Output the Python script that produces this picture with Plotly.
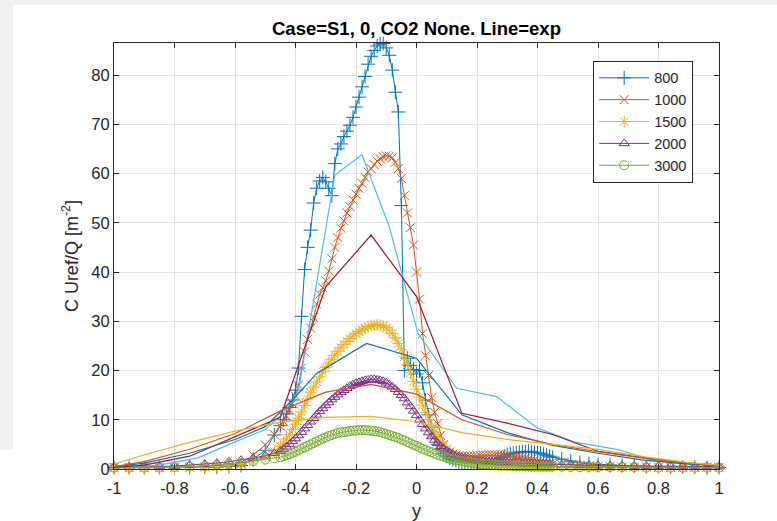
import plotly.graph_objects as go

# radial position (shared by all measured profiles)
y_exp = [-1.0, -0.95, -0.9, -0.85, -0.8, -0.75, -0.7, -0.66, -0.62, -0.58, -0.54, -0.5, -0.47,
         -0.45, -0.44, -0.43, -0.42, -0.41, -0.4, -0.39, -0.38, -0.37, -0.36,
         -0.35, -0.34, -0.33, -0.32, -0.31, -0.3, -0.29, -0.28, -0.27, -0.26,
         -0.25, -0.24, -0.23, -0.22, -0.21, -0.2, -0.19, -0.18, -0.17, -0.16,
         -0.15, -0.14, -0.13, -0.12, -0.11, -0.1, -0.09, -0.08, -0.07, -0.06,
         -0.05, -0.04, -0.03, -0.02, -0.01, 0.0, 0.01, 0.02, 0.03, 0.04,
         0.05, 0.06, 0.07, 0.08, 0.09, 0.1, 0.11, 0.12, 0.13, 0.14,
         0.15, 0.16, 0.17, 0.18, 0.19, 0.2, 0.21, 0.22, 0.23, 0.24,
         0.25, 0.26, 0.27, 0.28, 0.29, 0.3, 0.31, 0.32, 0.33, 0.34,
         0.35, 0.36, 0.37, 0.38, 0.39, 0.4, 0.41, 0.42, 0.43, 0.44,
         0.45,
         0.48, 0.51, 0.54, 0.57, 0.6, 0.64, 0.68, 0.72, 0.76, 0.8, 0.84, 0.88, 0.92, 0.96, 1.0]

c800 = [0.3, 0.3, 0.3, 0.3, 0.3, 0.3, 0.4, 0.4, 0.5, 0.7, 2.0, 3.8, 6.9,
        8.8, 10.0, 11.2, 12.5, 14.0, 16.0, 20.5, 31.0, 40.5, 45.0,
        48.5, 54.0, 57.0, 58.5, 59.2, 58.3, 57.0, 55.5, 62.0, 65.0,
        66.0, 67.5, 68.6, 69.8, 71.4, 73.5, 75.5, 77.6, 79.7, 82.2,
        83.8, 85.0, 85.9, 86.3, 86.4, 85.5, 84.0, 81.0, 76.5, 72.5,
        53.5, 20.0, 22.5, 21.0, 20.2, 19.3, 20.0, 17.5, 14.0, 11.0,
        8.5, 6.5, 5.0, 4.0, 3.2, 2.6, 2.2, 1.9, 1.7, 1.5,
        1.4, 1.3, 1.3, 1.2, 1.2, 1.2, 1.3, 1.3, 1.4, 1.5,
        1.6, 1.8, 2.0, 2.3, 2.6, 2.9, 3.1, 3.2, 3.3, 3.4,
        3.5, 3.5, 3.6, 3.5, 3.4, 3.3, 3.2, 3.0, 2.8, 2.6,
        2.4,
        2.0, 1.6, 1.3, 1.1, 0.9, 0.8, 0.7, 0.6, 0.5, 0.5, 0.4, 0.4, 0.4, 0.3, 0.3]

c1000 = [0.3, 0.3, 0.3, 0.3, 0.3, 0.3, 0.4, 0.5, 0.7, 1.2, 2.8, 4.9, 7.0,
         8.7, 9.7, 10.8, 12.0, 13.3, 14.8, 17.0, 20.5, 23.8, 26.3,
         28.6, 30.8, 33.5, 35.5, 36.8, 38.2, 40.2, 42.7, 45.0, 47.0,
         48.9, 50.4, 52.0, 53.3, 54.6, 55.8, 57.0, 58.0, 59.2, 60.3,
         61.0, 61.8, 62.5, 63.0, 63.4, 63.6, 63.5, 63.2, 62.3, 61.0,
         59.0, 55.5, 52.0, 49.0, 45.5, 40.0, 34.5, 27.5, 23.0, 19.0,
         14.5, 11.5, 9.2, 6.8, 5.0, 4.0, 3.4, 3.0, 2.8, 2.7,
         2.6, 2.6, 2.6, 2.6, 2.7, 2.7, 2.8, 2.8, 2.8, 2.9,
         2.9, 2.9, 2.9, 2.9, 2.8, 2.8, 2.7, 2.6, 2.5, 2.4,
         2.3, 2.2, 2.0, 1.9, 1.8, 1.6, 1.5, 1.4, 1.2, 1.1,
         1.0,
         0.9, 0.8, 0.7, 0.6, 0.5, 0.5, 0.4, 0.4, 0.4, 0.3, 0.3, 0.3, 0.3, 0.3, 0.3]

c1500 = [0.2, 0.2, 0.2, 0.2, 0.2, 0.3, 0.4, 0.5, 0.7, 1.0, 1.6, 2.6, 3.6,
         4.6, 5.3, 6.1, 7.0, 8.0, 9.1, 10.3, 11.6, 12.9, 14.2,
         15.5, 16.6, 17.7, 18.7, 19.7, 20.6, 21.5, 22.3, 23.1, 23.9,
         24.6, 25.3, 25.9, 26.5, 27.0, 27.5, 27.9, 28.3, 28.6, 28.9,
         29.1, 29.2, 29.3, 29.2, 29.0, 28.7, 28.2, 27.5, 26.6, 25.5,
         24.2, 22.8, 21.2, 19.5, 17.8, 16.2, 14.6, 13.0, 11.5, 10.0,
         8.7, 7.5, 6.4, 5.5, 4.7, 4.0, 3.5, 3.0, 2.6, 2.3,
         2.0, 1.8, 1.6, 1.5, 1.4, 1.3, 1.2, 1.1, 1.0, 1.0,
         0.9, 0.9, 0.8, 0.8, 0.8, 0.7, 0.7, 0.7, 0.7, 0.7,
         0.7, 0.6, 0.6, 0.6, 0.6, 0.6, 0.6, 0.6, 0.6, 0.5,
         0.5,
         0.5, 0.5, 0.5, 0.4, 0.4, 0.4, 0.4, 0.4, 0.4, 0.4, 0.4, 0.4, 0.4, 0.4, 0.4]

c2000 = [0.4, 0.4, 0.4, 0.5, 0.6, 0.8, 1.0, 1.2, 1.5, 1.8, 2.2, 2.7, 3.2,
         3.6, 4.0, 4.5, 5.0, 5.6, 6.2, 6.8, 7.5, 8.2, 8.9,
         9.6, 10.3, 11.0, 11.7, 12.3, 12.9, 13.5, 14.1, 14.6, 15.1,
         15.6, 16.0, 16.4, 16.8, 17.1, 17.4, 17.6, 17.8, 18.0, 18.1,
         18.2, 18.2, 18.1, 18.0, 17.8, 17.5, 17.1, 16.7, 16.2, 15.6,
         15.0, 14.3, 13.5, 12.7, 11.8, 10.9, 10.0, 9.1, 8.2, 7.4,
         6.6, 5.9, 5.2, 4.6, 4.1, 3.7, 3.3, 3.0, 2.7, 2.5,
         2.3, 2.1, 2.0, 1.9, 1.8, 1.7, 1.6, 1.6, 1.5, 1.5,
         1.4, 1.4, 1.4, 1.3, 1.3, 1.3, 1.2, 1.2, 1.2, 1.2,
         1.1, 1.1, 1.1, 1.1, 1.1, 1.0, 1.0, 1.0, 1.0, 1.0,
         1.0,
         0.9, 0.9, 0.8, 0.8, 0.7, 0.7, 0.7, 0.6, 0.6, 0.6, 0.6, 0.5, 0.5, 0.5, 0.5]

c3000 = [0.3, 0.3, 0.3, 0.3, 0.4, 0.5, 0.6, 0.8, 1.0, 1.3, 1.6, 1.9, 2.2,
         2.4, 2.6, 2.8, 3.0, 3.3, 3.5, 3.8, 4.1, 4.4, 4.7,
         5.0, 5.3, 5.6, 5.9, 6.2, 6.4, 6.7, 6.9, 7.1, 7.3,
         7.4, 7.5, 7.6, 7.7, 7.8, 7.8, 7.9, 7.9, 7.9, 7.8,
         7.8, 7.7, 7.6, 7.5, 7.3, 7.1, 6.9, 6.7, 6.5, 6.3,
         6.0, 5.8, 5.5, 5.2, 4.9, 4.7, 4.4, 4.1, 3.9, 3.6,
         3.4, 3.1, 2.9, 2.7, 2.5, 2.3, 2.1, 2.0, 1.8, 1.7,
         1.6, 1.5, 1.4, 1.3, 1.2, 1.1, 1.0, 1.0, 0.9, 0.9,
         0.8, 0.8, 0.8, 0.7, 0.7, 0.7, 0.7, 0.6, 0.6, 0.6,
         0.6, 0.6, 0.6, 0.5, 0.5, 0.5, 0.5, 0.5, 0.5, 0.5,
         0.5,
         0.5, 0.4, 0.4, 0.4, 0.4, 0.4, 0.4, 0.4, 0.3, 0.3, 0.3, 0.3, 0.3, 0.3, 0.3]

# simulated profiles (lines only)
y_sim800 = [-1.0, -0.85, -0.72, -0.6, -0.5, -0.43, -0.39, -0.27, -0.18, -0.09,
            0.005, 0.133, 0.265, 0.4, 0.52, 0.67, 0.78, 1.0]
s800 = [0.3, 0.8, 2.3, 5.5, 8.0, 12.0, 16.0, 59.7, 63.8, 49.2,
        27.5, 16.4, 14.7, 8.3, 5.5, 3.9, 1.8, 0.6]
y_sim1500 = [-1.0, -0.9, -0.75, -0.6, -0.5, -0.41, -0.33, -0.165, 0.0, 0.15,
             0.3, 0.45, 0.6, 0.75, 0.9, 1.0]
s1500 = [0.4, 1.2, 3.2, 6.0, 8.6, 14.0, 19.4, 25.5, 22.5, 11.0,
         7.4, 4.8, 3.2, 1.8, 1.0, 0.7]
y_sim = [-1.0, -0.9, -0.75, -0.6, -0.45, -0.3, -0.15, 0.0, 0.15, 0.3, 0.45, 0.6, 0.75, 0.9, 1.0]
s1000 = [0.3, 0.8, 2.6, 6.5, 10.5, 37.0, 47.5, 35.0, 11.3, 9.3, 7.0, 3.6, 2.3, 1.2, 0.7]
s2000 = [0.5, 1.5, 4.0, 7.2, 11.8, 15.6, 17.2, 15.2, 10.0, 7.0, 5.0, 3.5, 2.2, 1.2, 0.7]
s3000 = [1.0, 2.9, 5.4, 7.7, 9.5, 10.5, 10.7, 9.6, 7.4, 6.0, 5.0, 4.0, 2.5, 1.3, 0.8]

labels = ['800', '1000', '1500', '2000', '3000']
x_ticks = [-1, -0.8, -0.6, -0.4, -0.2, 0, 0.2, 0.4, 0.6, 0.8, 1]
x_ticktext = ['-1', '-0.8', '-0.6', '-0.4', '-0.2', '0', '0.2', '0.4', '0.6', '0.8', '1']
y_ticks = [0, 10, 20, 30, 40, 50, 60, 70, 80]

font = 'Liberation Sans, Arial, sans-serif'
ink = '#262626'

fig = go.Figure()

exp_styles = [('#0072BD', 'cross-thin', 10),
              ('#D95319', 'x-thin', 9),
              ('#EDB120', 'asterisk-open', 10),
              ('#7E2F8E', 'triangle-up-open', 9),
              ('#77AC30', 'circle-open', 9)]
for lab, vals, (col, sym, size) in zip(labels, [c800, c1000, c1500, c2000, c3000], exp_styles):
    fig.add_trace(go.Scatter(x=y_exp, y=vals, name=lab, mode='lines+markers',
                             line=dict(color=col, width=1),
                             marker=dict(symbol=sym, size=size, color=col,
                                         line=dict(color=col, width=1)),
                             cliponaxis=False))

sim_styles = [(y_sim800, s800, '#4DBEEE'),
              (y_sim, s1000, '#A2142F'),
              (y_sim1500, s1500, '#0072BD'),
              (y_sim, s2000, '#D95319'),
              (y_sim, s3000, '#EDB120')]
for xs, vals, col in sim_styles:
    fig.add_trace(go.Scatter(x=xs, y=vals, mode='lines', showlegend=False,
                             line=dict(color=col, width=1.2)))

# grey window strips of the screenshot
fig.add_shape(type='rect', xref='paper', yref='paper', x0=-0.2, x1=1.1, y0=1.089, y1=1.11,
              fillcolor='#f0f0f0', line_width=0, layer='below')
fig.add_shape(type='rect', xref='paper', yref='paper', x0=-0.2, x1=-0.167, y0=0.045, y1=1.089,
              fillcolor='#f0f0f0', line_width=0, layer='below')

axis_common = dict(showline=True, linecolor=ink, linewidth=1, mirror='ticks',
                   ticks='inside', ticklen=5, tickcolor=ink, automargin=False,
                   showgrid=True, gridcolor='#e3e3e3', gridwidth=1, zeroline=False,
                   tickfont=dict(family=font, size=16.5, color=ink))

fig.update_layout(
    width=777, height=521,
    margin=dict(l=114, r=58, t=43, b=52),
    paper_bgcolor='white', plot_bgcolor='white',
    title=dict(text='<b>Case=S1, 0, CO2 None. Line=exp</b>', x=0.536, xanchor='center',
               y=0.945, yanchor='middle', font=dict(family=font, size=18.5, color='black')),
    xaxis=dict(range=[-1, 1], tickvals=x_ticks, ticktext=x_ticktext, ticklabelstandoff=4,
               title=dict(text='y', font=dict(family=font, size=18, color=ink), standoff=8),
               **axis_common),
    yaxis=dict(range=[0, 86.5], tickvals=y_ticks,
               title=dict(text='C Uref/Q [m<sup>-2</sup>]', font=dict(family=font, size=18, color=ink),
                          standoff=8),
               **axis_common),
    legend=dict(x=0.792, y=0.958, xanchor='left', yanchor='top',
                bgcolor='white', bordercolor=ink, borderwidth=1,
                font=dict(family=font, size=14.5, color=ink), itemwidth=50,
                tracegroupgap=0),
    showlegend=True,
)

fig.write_html("out.html", config={'displayModeBar': False},
               post_script="document.body.style.margin='0px';")
